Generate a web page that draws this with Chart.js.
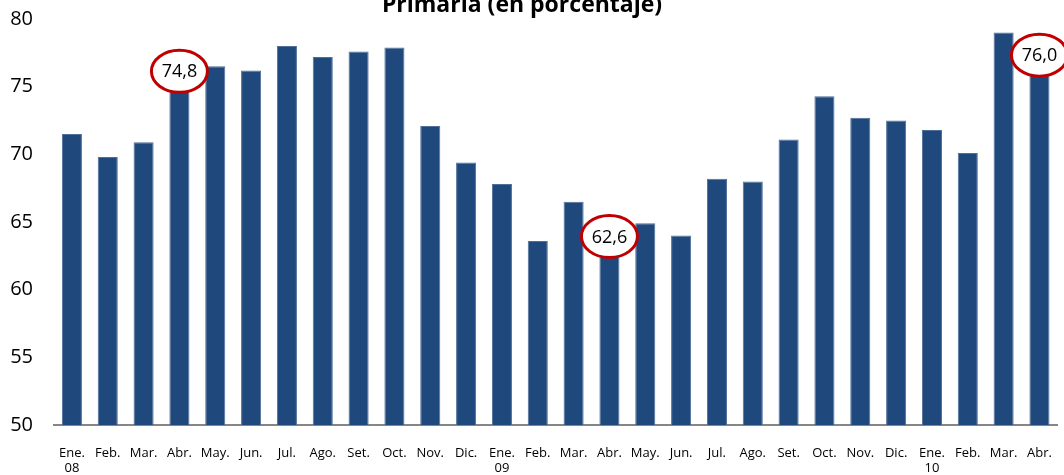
<!DOCTYPE html>
<html>
<head>
<meta charset="utf-8">
<script src="https://cdn.jsdelivr.net/npm/chart.js@4"></script>
<style>
  html, body { margin: 0; padding: 0; background: #fff; }
  #wrap { width: 1064px; height: 475px; }
</style>
</head>
<body>
<div id="wrap"><canvas id="chart" width="1064" height="475"></canvas></div>
<script>
const titleText = "Primaria (en porcentaje)";

const months = ["Ene.", "Feb.", "Mar.", "Abr.", "May.", "Jun.", "Jul.", "Ago.", "Set.", "Oct.", "Nov.", "Dic.",
  "Ene.", "Feb.", "Mar.", "Abr.", "May.", "Jun.", "Jul.", "Ago.", "Set.", "Oct.", "Nov.", "Dic.",
  "Ene.", "Feb.", "Mar.", "Abr."];
const years = ["08", "", "", "", "", "", "", "", "", "", "", "",
  "09", "", "", "", "", "", "", "", "", "", "", "",
  "10", "", "", ""];

const values = [71.5, 69.8, 70.9, 74.8, 76.5, 76.2, 78.0, 77.2, 77.6, 77.9, 72.1, 69.4,
  67.8, 63.6, 66.5, 62.6, 64.9, 64.0, 68.2, 68.0, 71.1, 74.3, 72.7, 72.5,
  71.8, 70.1, 79.0, 76.0];

// bars that carry a circled value
const highlighted = [3, 15, 27];

const yTicks = [50, 55, 60, 65, 70, 75, 80];

const labels = months.map((m, i) => (years[i] ? [m, years[i]] : m));

const circledValues = {
  id: "circledValues",
  afterDatasetsDraw(chart) {
    const { ctx } = chart;
    const meta = chart.getDatasetMeta(0);
    ctx.save();
    highlighted.forEach((i) => {
      const bar = meta.data[i];
      const cx = bar.x;
      const cy = bar.y - 18;
      ctx.beginPath();
      ctx.ellipse(cx, cy, 28, 21, 0, 0, Math.PI * 2);
      ctx.fillStyle = "#ffffff";
      ctx.fill();
      ctx.lineWidth = 3;
      ctx.strokeStyle = "#c00000";
      ctx.stroke();
      ctx.fillStyle = "#000000";
      ctx.font = "18px 'Open Sans'";
      ctx.textAlign = "center";
      ctx.textBaseline = "middle";
      ctx.fillText(values[i].toFixed(1).replace(".", ","), cx, cy + 1);
    });
    ctx.restore();
  },
};

const topTitle = {
  id: "topTitle",
  afterDraw(chart) {
    const { ctx } = chart;
    ctx.save();
    ctx.fillStyle = "#000000";
    ctx.font = "bold 23px 'Open Sans'";
    ctx.textAlign = "center";
    ctx.textBaseline = "alphabetic";
    ctx.fillText(titleText, 522, 12);
    ctx.restore();
  },
};

new Chart(document.getElementById("chart"), {
  type: "bar",
  data: {
    labels,
    datasets: [
      {
        data: values,
        backgroundColor: "#1f497d",
        borderColor: "#4f6f99",
        borderWidth: { left: 1, right: 1, top: 1, bottom: 0 },
        barPercentage: 0.56,
        categoryPercentage: 1,
      },
    ],
  },
  options: {
    responsive: false,
    animation: false,
    events: [],
    layout: { padding: { top: 19, right: 5, left: 0, bottom: 0 } },
    plugins: {
      legend: { display: false },
      title: { display: false },
      tooltip: { enabled: false },
    },
    scales: {
      x: {
        afterFit(scale) {
          scale.height = 50;
        },
        grid: { display: false },
        border: { display: true, color: "#868686", width: 2 },
        ticks: {
          color: "#000000",
          font: { family: "'Open Sans'", size: 13 },
          padding: 12,
          maxRotation: 0,
          autoSkip: false,
        },
      },
      y: {
        min: 50,
        max: 80,
        afterBuildTicks(scale) {
          scale.ticks = yTicks.map((v) => ({ value: v }));
        },
        afterFit(scale) {
          scale.width = 54;
          scale.paddingTop = 0;
          scale.paddingBottom = 0;
        },
        grid: { display: false },
        border: { display: false },
        ticks: {
          color: "#000000",
          font: { family: "'Open Sans'", size: 20 },
          padding: 13,
        },
      },
    },
  },
  plugins: [circledValues, topTitle],
});
</script>
</body>
</html>
